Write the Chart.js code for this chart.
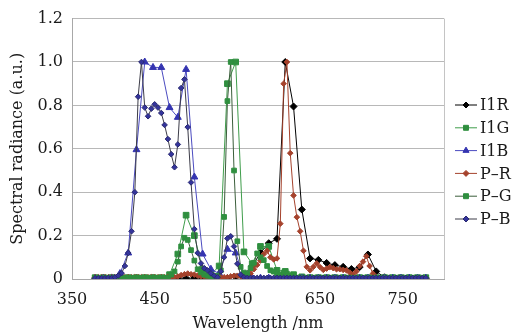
<!DOCTYPE html>
<html>
<head>
<meta charset="utf-8">
<script src="https://cdn.jsdelivr.net/npm/chart.js@4.4.1/dist/chart.umd.min.js"></script>
<style>
  html, body { margin: 0; padding: 0; background: #fff; }
  #wrap { width: 521px; height: 333px; }
</style>
</head>
<body>
<div id="wrap"><canvas id="chart"></canvas></div>
<script>
// tick labels
const xTicks = [350, 450, 550, 650, 750];
const yTicks = [0, 0.2, 0.4, 0.6, 0.8, 1.0, 1.2];

// wavelength grids (nm): I1 measured every 10 nm, P every 4 nm
const i1Wave = [378, 388, 398, 408, 418, 428, 438, 448, 458, 468, 478, 488, 498, 508, 518, 528, 538, 548, 558, 568,
  578, 588, 598, 608, 618, 628, 638, 648, 658, 668, 678, 688, 698, 708, 718, 728, 738, 748, 758, 768, 778];
const pWave = [378, 382, 386, 390, 394, 398, 402, 406, 410, 414, 418, 422, 426, 430, 434, 438, 442, 446, 450, 454,
  458, 462, 466, 470, 474, 478, 482, 486, 490, 494, 498, 502, 506, 510, 514, 518, 522, 526, 530, 534,
  538, 542, 546, 550, 554, 558, 562, 566, 570, 574, 578, 582, 586, 590, 594, 598, 602, 606, 610, 614,
  618, 622, 626, 630, 634, 638, 642, 646, 650, 654, 658, 662, 666, 670, 674, 678, 682, 686, 690, 694,
  698, 702, 706, 710, 714, 718, 722, 726, 730, 734, 738, 742, 746, 750, 754, 758, 762, 766, 770, 774, 778];

const i1R = [0.004, 0.004, 0.004, 0.004, 0.004, 0.004, 0.004, 0.004, 0.004, 0.004, 0.004, 0.004, 0.004, 0.004,
  0.004, 0.004, 0.004, 0.008, 0.02, 0.06, 0.12, 0.165, 0.185, 1.0, 0.795, 0.32, 0.095, 0.088, 0.074, 0.064,
  0.056, 0.046, 0.055, 0.113, 0.035, 0.008, 0.004, 0.004, 0.004, 0.004, 0.004];
const i1G = [0.006, 0.006, 0.006, 0.006, 0.006, 0.006, 0.006, 0.006, 0.006, 0.02, 0.115, 0.294, 0.2, 0.045,
  0.02, 0.06, 0.9, 1.0, 0.125, 0.07, 0.15, 0.15, 0.04, 0.035, 0.02, 0.01, 0.006, 0.006, 0.006, 0.006,
  0.006, 0.006, 0.006, 0.006, 0.006, 0.006, 0.006, 0.006, 0.006, 0.006, 0.006];
const i1B = [0.003, 0.003, 0.005, 0.025, 0.12, 0.596, 1.0, 0.975, 0.975, 0.79, 0.745, 0.966, 0.47, 0.115,
  0.045, 0.025, 0.137, 0.12, 0.01, 0.004, 0.004, 0.004, 0.004, 0.004, 0.004, 0.004, 0.004, 0.004, 0.004,
  0.004, 0.004, 0.004, 0.004, 0.004, 0.004, 0.004, 0.004, 0.004, 0.004, 0.004, 0.004];

const pR = [0.008, 0.008, 0.008, 0.008, 0.008, 0.008, 0.008, 0.008, 0.008, 0.008, 0.008, 0.008, 0.008, 0.008,
  0.008, 0.008, 0.008, 0.008, 0.008, 0.008, 0.008, 0.008, 0.008, 0.008, 0.008,
  0.012, 0.018, 0.022, 0.025, 0.022, 0.02, 0.016, 0.012, 0.01,
  0.008, 0.008, 0.008, 0.008, 0.008, 0.008, 0.008,
  0.012, 0.015, 0.015, 0.012, 0.01,
  0.015, 0.025, 0.045, 0.065, 0.085, 0.115, 0.13, 0.10, 0.09, 0.095, 0.255, 0.9, 1.0, 0.58, 0.385, 0.285,
  0.22, 0.13, 0.056, 0.04, 0.056, 0.072, 0.055, 0.042, 0.048, 0.055, 0.05, 0.045, 0.045, 0.042, 0.04, 0.03,
  0.02, 0.035, 0.06, 0.08, 0.105, 0.06, 0.025, 0.008,
  0.004, 0.004, 0.004, 0.004, 0.004, 0.004, 0.004, 0.004, 0.004, 0.004, 0.004, 0.004, 0.004, 0.004, 0.004];
const pG = [0.006, 0.006, 0.006, 0.006, 0.006, 0.006, 0.006, 0.006, 0.006, 0.006, 0.006, 0.006, 0.006, 0.006,
  0.006, 0.006, 0.006, 0.006, 0.006, 0.006, 0.006, 0.006, 0.006,
  0.02, 0.035, 0.08, 0.15, 0.19, 0.18, 0.133, 0.085, 0.045, 0.03, 0.02, 0.015, 0.012, 0.012, 0.015, 0.04,
  0.286, 0.82, 1.0, 0.5, 0.174, 0.056, 0.03, 0.025, 0.05, 0.075, 0.118, 0.10, 0.087, 0.06, 0.04, 0.034,
  0.025, 0.02, 0.03, 0.025, 0.015, 0.01,
  0.006, 0.006, 0.006, 0.006, 0.006, 0.006, 0.006, 0.006, 0.006, 0.006, 0.006, 0.006, 0.006, 0.006, 0.006,
  0.006, 0.006, 0.006, 0.006, 0.006, 0.006, 0.006, 0.006, 0.006, 0.006, 0.006, 0.006, 0.006, 0.006, 0.006,
  0.006, 0.006, 0.006, 0.006, 0.006, 0.006, 0.006, 0.006, 0.006, 0.006];
const pB = [0.004, 0.004, 0.004, 0.004, 0.005, 0.005, 0.008, 0.016, 0.027, 0.06, 0.12, 0.22, 0.40, 0.84, 1.0,
  0.79, 0.75, 0.785, 0.805, 0.79, 0.765, 0.71, 0.645, 0.575, 0.515, 0.62, 0.88, 0.92, 0.70, 0.445, 0.23,
  0.12, 0.072, 0.05, 0.04, 0.026, 0.015, 0.008, 0.035, 0.10, 0.187, 0.197, 0.15, 0.07, 0.02, 0.008,
  0.005, 0.005, 0.005, 0.005, 0.005, 0.005, 0.005, 0.005, 0.005, 0.005, 0.005, 0.005, 0.005, 0.005, 0.005,
  0.005, 0.005, 0.005, 0.005, 0.005, 0.005, 0.005, 0.005, 0.005, 0.005, 0.005, 0.005, 0.005, 0.005, 0.005,
  0.005, 0.005, 0.005, 0.005, 0.005, 0.005, 0.005, 0.005, 0.005, 0.005, 0.005, 0.005, 0.005, 0.005, 0.005,
  0.005, 0.005, 0.005, 0.005, 0.005, 0.005, 0.005, 0.005, 0.005, 0.005];

const toPoints = (xs, ys) => xs.map((x, i) => ({x: x, y: ys[i]}));

const FONT = '"DejaVu Serif", serif';
const TEXT = '#1a1a1a';

function marker(ctx, style, x, y, r) {
  ctx.beginPath();
  if (style === 'rect') {
    const s = r * Math.SQRT1_2;
    ctx.rect(x - s, y - s, 2 * s, 2 * s);
  } else if (style === 'triangle') {
    ctx.moveTo(x, y - r);
    ctx.lineTo(x + r * 0.87, y + r * 0.5);
    ctx.lineTo(x - r * 0.87, y + r * 0.5);
    ctx.closePath();
  } else {
    ctx.moveTo(x, y - r);
    ctx.lineTo(x + r, y);
    ctx.lineTo(x, y + r);
    ctx.lineTo(x - r, y);
    ctx.closePath();
  }
  ctx.fill();
  ctx.stroke();
}

// right border of the plot area
const plotFrame = {
  id: 'plotFrame',
  beforeDatasetsDraw(chart) {
    const {ctx, chartArea: a} = chart;
    ctx.save();
    ctx.strokeStyle = '#c4c4c4';
    ctx.lineWidth = 1;
    ctx.beginPath();
    ctx.moveTo(Math.round(a.right) + 0.5, a.top);
    ctx.lineTo(Math.round(a.right) + 0.5, a.bottom);
    ctx.stroke();
    ctx.restore();
  }
};

// legend with line + marker, like the office chart
const sideLegend = {
  id: 'sideLegend',
  afterDraw(chart) {
    const {ctx, chartArea: a} = chart;
    const x0 = a.right + 11, x1 = x0 + 22;
    ctx.save();
    chart.data.datasets.forEach((ds, i) => {
      const y = 105 + i * 22.8;
      ctx.strokeStyle = ds.borderColor;
      ctx.lineWidth = 1;
      ctx.beginPath();
      ctx.moveTo(x0, y);
      ctx.lineTo(x1, y);
      ctx.stroke();
      ctx.fillStyle = ds.pointBackgroundColor;
      ctx.strokeStyle = ds.pointBorderColor;
      marker(ctx, ds.pointStyle, (x0 + x1) / 2, y, ds.legendRadius);
      ctx.fillStyle = TEXT;
      ctx.font = '16px ' + FONT;
      ctx.textBaseline = 'middle';
      ctx.textAlign = 'left';
      ctx.fillText(ds.label, x1 + 3, y + 1);
    });
    ctx.restore();
  }
};

const ctx = document.getElementById('chart').getContext('2d');
const myChart = new Chart(ctx, {
  type: 'line',
  data: {
    datasets: [{
      label: 'I1R',
      data: toPoints(i1Wave, i1R),
      order: 5,
      borderColor: '#000000',
      pointBackgroundColor: '#000000',
      pointBorderColor: '#000000',
      pointStyle: 'rectRot',
      pointRadius: 3.5,
      legendRadius: 3
    }, {
      label: 'I1G',
      data: toPoints(i1Wave, i1G),
      order: 4,
      borderColor: '#3f9d4b',
      pointBackgroundColor: '#2f8f3f',
      pointBorderColor: '#2f8f3f',
      pointStyle: 'rect',
      pointRadius: 4,
      legendRadius: 3.5
    }, {
      label: 'I1B',
      data: toPoints(i1Wave, i1B),
      order: 3,
      borderColor: '#4b4bc0',
      pointBackgroundColor: '#3434b0',
      pointBorderColor: '#3434b0',
      pointStyle: 'triangle',
      pointRadius: 4,
      legendRadius: 3.5
    }, {
      label: 'P–R',
      data: toPoints(pWave, pR),
      order: 2,
      borderColor: '#a5422c',
      pointBackgroundColor: '#a5422c',
      pointBorderColor: '#a5422c',
      pointStyle: 'rectRot',
      pointRadius: 2.8,
      legendRadius: 3
    }, {
      label: 'P–G',
      data: toPoints(pWave, pG),
      order: 1,
      borderColor: '#3b5e3b',
      pointBackgroundColor: '#2f8f3f',
      pointBorderColor: '#2f8f3f',
      pointStyle: 'rect',
      pointRadius: 3.3,
      legendRadius: 3.5
    }, {
      label: 'P–B',
      data: toPoints(pWave, pB),
      order: 0,
      borderColor: '#3c3c48',
      pointBackgroundColor: '#34349c',
      pointBorderColor: '#2a2a70',
      pointStyle: 'rectRot',
      pointRadius: 2.8,
      legendRadius: 3
    }]
  },
  options: {
    responsive: true,
    maintainAspectRatio: false,
    animation: false,
    layout: { padding: { top: 17, right: 77, bottom: 0, left: 0 } },
    elements: {
      line: { borderWidth: 1, tension: 0 },
      point: { borderWidth: 1 }
    },
    plugins: {
      legend: { display: false },
      tooltip: { enabled: false }
    },
    scales: {
      x: {
        type: 'linear',
        min: 350,
        max: 800,
        afterBuildTicks: scale => { scale.ticks = xTicks.map(v => ({value: v})); },
        afterFit: scale => { scale.height = 54; },
        grid: { display: false, drawTicks: false },
        border: { display: true, color: '#a8a8a8', width: 1 },
        ticks: {
          padding: 11,
          color: TEXT,
          font: { family: FONT, size: 16 },
          maxRotation: 0,
          callback: v => String(v)
        },
        title: {
          display: true,
          text: 'Wavelength /nm',
          color: TEXT,
          font: { family: FONT, size: 16 },
          padding: { top: 0, bottom: 0 }
        }
      },
      y: {
        min: 0,
        max: 1.2,
        afterBuildTicks: scale => { scale.ticks = yTicks.map(v => ({value: v})); },
        afterFit: scale => { scale.width = 72; },
        grid: { color: '#b8b8b8', lineWidth: 1, drawTicks: false },
        border: { display: true, color: '#a8a8a8', width: 1 },
        ticks: {
          padding: 9,
          color: TEXT,
          font: { family: FONT, size: 16 },
          callback: v => v === 0 ? '0' : v.toFixed(1)
        },
        title: {
          display: true,
          text: 'Spectral radiance (a.u.)',
          color: TEXT,
          font: { family: FONT, size: 16 },
          padding: { top: 8, bottom: 0 }
        }
      }
    }
  },
  plugins: [plotFrame, sideLegend]
});
</script>
</body>
</html>
